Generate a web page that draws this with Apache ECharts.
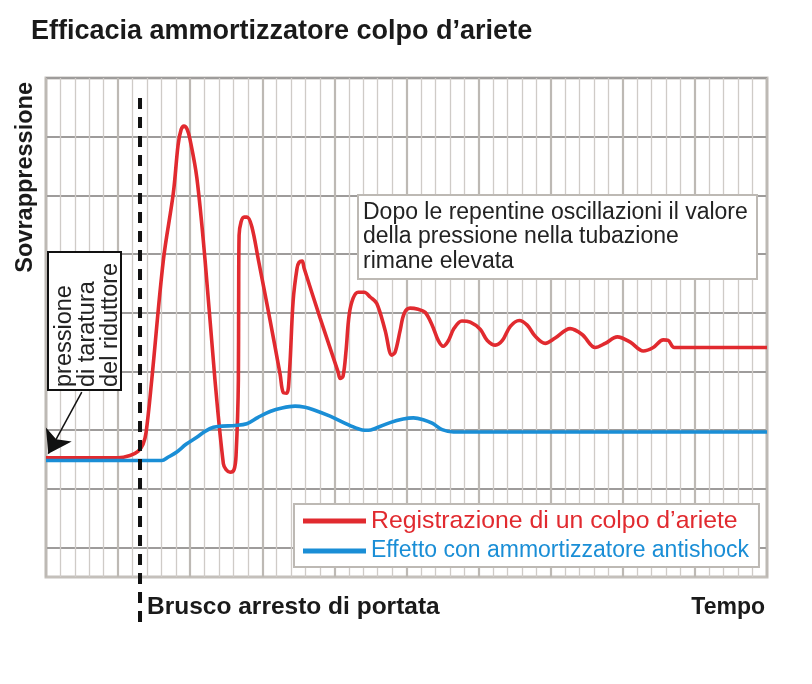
<!DOCTYPE html>
<html>
<head>
<meta charset="utf-8">
<script src="https://cdn.jsdelivr.net/npm/echarts@6/dist/echarts.min.js"></script>
<style>html,body{margin:0;padding:0;background:#fff}#c{width:812px;height:684px}</style>
</head>
<body>
<div id="c"></div>
<script>
// x: time in grid columns (0..50); y: pressure in grid rows (-0.5..8)
const redX = [0,5.0,5.83,6.38,6.73,6.94,7.33,8.14,8.83,9.16,9.37,9.57,9.78,9.99,10.46,11.03,11.72,12.30,12.49,12.77,13.04,13.18,13.34,13.36,13.39,13.53,13.74,13.94,14.27,14.73,15.54,16.23,16.46,16.70,16.89,17.14,17.41,17.55,17.76,17.90,19.01,20.26,20.40,20.60,20.81,21.02,21.30,21.65,22.07,22.48,22.94,23.52,23.98,24.21,24.56,24.84,25.25,25.81,26.29,26.78,27.20,27.54,27.89,28.31,28.84,29.42,30.11,30.60,31.16,31.65,32.20,32.82,33.37,33.93,34.62,35.31,36.35,37.18,38.09,38.78,39.62,40.52,41.42,42.11,42.81,43.15,43.57,50];
const redY = [1.53,1.53,1.57,1.64,1.76,1.96,2.85,4.90,6.04,6.86,7.12,7.18,7.13,6.95,6.30,4.90,2.85,1.43,1.33,1.285,1.33,1.57,2.85,4.21,5.32,5.55,5.63,5.63,5.47,4.90,3.87,2.96,2.64,2.63,3.02,4.21,4.76,4.86,4.88,4.76,3.91,2.99,2.88,2.92,3.36,3.96,4.25,4.35,4.35,4.27,4.16,3.70,3.28,3.33,3.70,3.99,4.08,4.06,4.01,3.79,3.53,3.43,3.52,3.74,3.86,3.84,3.72,3.53,3.45,3.53,3.77,3.87,3.79,3.60,3.48,3.57,3.73,3.63,3.41,3.48,3.59,3.50,3.35,3.41,3.54,3.53,3.41,3.41];
const blueX = [0,8.03,8.46,9.07,9.71,10.46,11.03,11.61,12.21,13.11,13.92,14.71,15.54,16.37,17.27,17.97,18.54,19.70,21.09,21.93,22.36,22.82,23.86,24.77,25.48,26.16,26.78,27.47,28.26,50];
const blueY = [1.485,1.485,1.54,1.63,1.76,1.88,1.98,2.05,2.07,2.08,2.11,2.22,2.32,2.38,2.41,2.39,2.35,2.24,2.08,2.005,2.00,2.03,2.13,2.19,2.21,2.18,2.12,2.01,1.97,1.97];
const stopX = [6.52, 6.52];
const stopY = [7.66, -1.38];
const arrowFrom = [2.48, 2.65];
const arrowTo = [0.16, 1.60];
const seriesNames = ['Registrazione di un colpo d’ariete', 'Effetto con ammortizzatore antishock'];
const titleText = 'Efficacia ammortizzatore colpo d’ariete';
const yName = 'Sovrappressione';
const xNameLeft = 'Brusco arresto di portata';
const xNameRight = 'Tempo';
const noteText = ['Dopo le repentine oscillazioni il valore', 'della pressione nella tubazione', 'rimane elevata'];
const setText = ['pressione', 'di taratura', 'del riduttore'];

const RED = '#e12a2f', BLUE = '#1a8ed6';
const FONT = 'Liberation Sans';
const zip = (a, b) => a.map((v, i) => [v, b[i]]);

const chart = echarts.init(document.getElementById('c'));
chart.setOption({
  animation: false,
  backgroundColor: '#fff',
  title: { text: titleText, left: 31, top: 18, padding: 0,
    textStyle: { fontFamily: FONT, fontSize: 27, fontWeight: 'bold', color: '#1a1a1a' } },
  grid: { left: 46, right: 45, top: 78, bottom: 107, show: true, borderColor: '#c4c0bb', borderWidth: 3, backgroundColor: '#fff' },
  xAxis: { type: 'value', min: 0, max: 50, interval: 5,
    axisLine: { show: false }, axisTick: { show: false }, axisLabel: { show: false },
    splitLine: { show: true, lineStyle: { color: '#bdb9b4', width: 2.2 } },
    minorTick: { show: false, splitNumber: 5 },
    minorSplitLine: { show: true, lineStyle: { color: '#cfcbc7', width: 1.3 } } },
  yAxis: { type: 'value', min: -0.5, max: 8, interval: 0.5,
    axisLine: { show: false }, axisTick: { show: false }, axisLabel: { show: false },
    splitLine: { show: true, lineStyle: { color: ['rgba(0,0,0,0)', '#9e9c9b'], width: 1.8 } } },
  legend: { orient: 'vertical', left: 294, top: 504, padding: [4, 10, 3, 9],
    borderColor: '#bdb9b4', borderWidth: 2, backgroundColor: '#fff',
    itemWidth: 63, itemHeight: 5, itemGap: 4,
    textStyle: { fontFamily: FONT, fontSize: 23, lineHeight: 26 },
    data: [ { name: seriesNames[0], icon: 'rect', textStyle: { color: RED, fontSize: 24.8 } },
            { name: seriesNames[1], icon: 'rect', textStyle: { color: BLUE, fontSize: 23 } } ] },
  series: [
    { name: seriesNames[0], type: 'line', data: zip(redX, redY), smooth: 0.35, showSymbol: false,
      lineStyle: { color: RED, width: 3.6 }, itemStyle: { color: RED }, z: 3 },
    { name: seriesNames[1], type: 'line', data: zip(blueX, blueY), smooth: 0.35, showSymbol: false,
      lineStyle: { color: BLUE, width: 3.6 }, itemStyle: { color: BLUE }, z: 4 },
    { name: 'stop', type: 'line', data: zip(stopX, stopY), clip: false, showSymbol: false, silent: true,
      lineStyle: { color: '#111', width: 4, type: [11, 8] }, z: 5 },
    { name: 'arrow', type: 'lines', coordinateSystem: 'cartesian2d', silent: true, z: 6,
      symbol: ['none', 'arrow'], symbolSize: 22,
      lineStyle: { color: '#111', width: 1.5, opacity: 1, curveness: 0 },
      data: [ { coords: [arrowFrom, arrowTo] } ] }
  ],
  graphic: [
    { type: 'text', left: 14, top: 82, rotation: Math.PI / 2, z: 10,
      style: { text: yName, fontFamily: FONT, fontSize: 23.5, fontWeight: 'bold', fill: '#1a1a1a' } },
    { type: 'text', left: 147, top: 595, z: 10,
      style: { text: xNameLeft, fontFamily: FONT, fontSize: 24.5, fontWeight: 'bold', fill: '#1a1a1a' } },
    { type: 'text', right: 47, top: 596, z: 10,
      style: { text: xNameRight, fontFamily: FONT, fontSize: 23, fontWeight: 'bold', fill: '#1a1a1a' } },
    { type: 'rect', x: 358, y: 195, z: 20, shape: { x: 0, y: 0, width: 399, height: 84 },
      style: { fill: '#fff', stroke: '#bdb9b4', lineWidth: 2 } },
    { type: 'text', x: 363, y: 200, z: 21,
      style: { text: noteText.join('\n'), fontFamily: FONT, fontSize: 23, lineHeight: 24.5, fill: '#222' } },
    { type: 'rect', x: 48, y: 252, z: 20, shape: { x: 0, y: 0, width: 73, height: 138 },
      style: { fill: '#fff', stroke: '#111', lineWidth: 2 } },
    { type: 'text', x: 53, y: 387, rotation: Math.PI / 2, z: 21,
      style: { text: setText.join('\n'), fontFamily: FONT, fontSize: 23.5, lineHeight: 23, fill: '#222', align: 'left', verticalAlign: 'top' } }
  ]
});
</script>
</body>
</html>
